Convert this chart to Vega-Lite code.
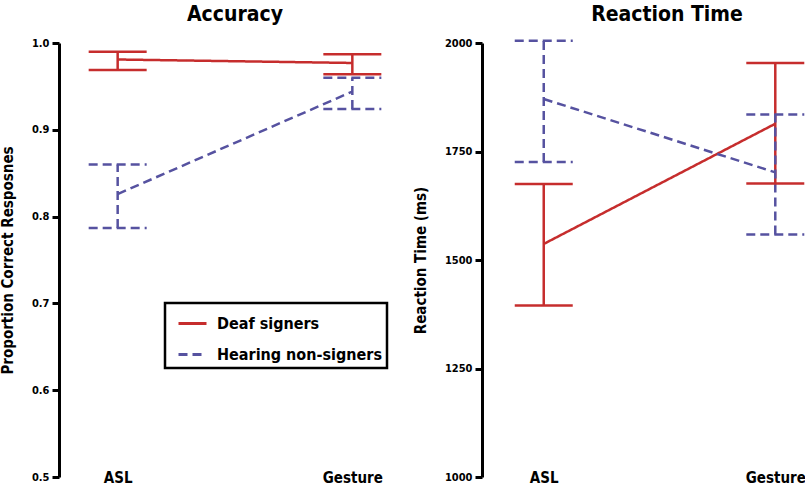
{
  "$schema": "https://vega.github.io/schema/vega-lite/v6.json",
  "padding": {"left": 0, "top": 4, "right": 0, "bottom": 0},
  "spacing": 2,
  "datasets": {
    "acc": [
      {"cond": "ASL", "group": "Deaf signers", "mean": 0.981, "lo": 0.969, "hi": 0.990},
      {"cond": "Gesture", "group": "Deaf signers", "mean": 0.977, "lo": 0.964, "hi": 0.987},
      {"cond": "ASL", "group": "Hearing non-signers", "mean": 0.826, "lo": 0.787, "hi": 0.860},
      {"cond": "Gesture", "group": "Hearing non-signers", "mean": 0.944, "lo": 0.924, "hi": 0.960}
    ],
    "rt": [
      {"cond": "ASL", "group": "Deaf signers", "mean": 1537, "lo": 1395, "hi": 1675},
      {"cond": "Gesture", "group": "Deaf signers", "mean": 1814, "lo": 1676, "hi": 1954},
      {"cond": "ASL", "group": "Hearing non-signers", "mean": 1871, "lo": 1726, "hi": 2005},
      {"cond": "Gesture", "group": "Hearing non-signers", "mean": 1702, "lo": 1559, "hi": 1835}
    ]
  },
  "hconcat": [
    {
      "width": 352,
      "height": 434,
      "title": {"text": "Accuracy"},
      "data": {"name": "acc"},
      "encoding": {
        "x": {"field": "cond", "type": "nominal", "sort": ["ASL", "Gesture"], "scale": {"type": "point", "padding": 0.25}, "title": null},
        "color": {"field": "group", "type": "nominal", "title": null,
          "scale": {"domain": ["Deaf signers", "Hearing non-signers"], "range": ["#c62d2d", "#5652a0"]},
          "legend": {"orient": "none", "legendX": 106, "legendY": 260,
            "encode": {"symbols": {"update": {"stroke": {"signal": "datum.value === 'Deaf signers' ? '#c0462e' : '#1f1fe0'"}}}}}},
        "strokeDash": {"field": "group", "type": "nominal", "title": null,
          "scale": {"domain": ["Deaf signers", "Hearing non-signers"], "range": [[1, 0], [9, 5]]},
          "legend": {"orient": "none", "legendX": 106, "legendY": 260,
            "encode": {"symbols": {"update": {"stroke": {"signal": "datum.value === 'Deaf signers' ? '#c0462e' : '#1f1fe0'"}}}}}}
      },
      "layer": [
        {"mark": {"type": "line", "strokeWidth": 2.5},
         "encoding": {"y": {"field": "mean", "type": "quantitative", "title": "Proportion Correct Resposnes",
           "scale": {"domain": [0.5, 1.0], "nice": false, "zero": false},
           "axis": {"values": [0.5, 0.6, 0.7, 0.8, 0.9, 1.0], "format": ".1f"}}}},
        {"mark": {"type": "rule", "strokeWidth": 2.5},
         "encoding": {"y": {"field": "lo", "type": "quantitative", "title": "Proportion Correct Resposnes"}, "y2": {"field": "hi"}}},
        {"mark": {"type": "rule", "strokeWidth": 2.5, "xOffset": -29, "x2Offset": 29},
         "encoding": {"x2": {"field": "cond"}, "y": {"field": "hi", "type": "quantitative", "title": "Proportion Correct Resposnes"}}},
        {"mark": {"type": "rule", "strokeWidth": 2.5, "xOffset": -29, "x2Offset": 29},
         "encoding": {"x2": {"field": "cond"}, "y": {"field": "lo", "type": "quantitative", "title": "Proportion Correct Resposnes"}}}
      ]
    },
    {
      "width": 320,
      "height": 434,
      "title": {"text": "Reaction Time", "dx": 25},
      "data": {"name": "rt"},
      "encoding": {
        "x": {"field": "cond", "type": "nominal", "sort": ["ASL", "Gesture"], "scale": {"type": "point", "padding": 0.191, "align": 0.698}, "title": null},
        "color": {"field": "group", "type": "nominal", "title": null,
          "scale": {"domain": ["Deaf signers", "Hearing non-signers"], "range": ["#c62d2d", "#5652a0"]}, "legend": null},
        "strokeDash": {"field": "group", "type": "nominal", "title": null,
          "scale": {"domain": ["Deaf signers", "Hearing non-signers"], "range": [[1, 0], [9, 5]]}, "legend": null}
      },
      "layer": [
        {"mark": {"type": "line", "strokeWidth": 2.5},
         "encoding": {"y": {"field": "mean", "type": "quantitative", "title": "Reaction Time (ms)",
           "scale": {"domain": [1000, 2000], "nice": false, "zero": false},
           "axis": {"values": [1000, 1250, 1500, 1750, 2000], "format": "d"}}}},
        {"mark": {"type": "rule", "strokeWidth": 2.5},
         "encoding": {"y": {"field": "lo", "type": "quantitative", "title": "Reaction Time (ms)"}, "y2": {"field": "hi"}}},
        {"mark": {"type": "rule", "strokeWidth": 2.5, "xOffset": -29, "x2Offset": 29},
         "encoding": {"x2": {"field": "cond"}, "y": {"field": "hi", "type": "quantitative", "title": "Reaction Time (ms)"}}},
        {"mark": {"type": "rule", "strokeWidth": 2.5, "xOffset": -29, "x2Offset": 29},
         "encoding": {"x2": {"field": "cond"}, "y": {"field": "lo", "type": "quantitative", "title": "Reaction Time (ms)"}}}
      ]
    }
  ],
  "resolve": {"scale": {"y": "independent", "x": "independent", "color": "independent", "strokeDash": "independent"}, "legend": {"color": "independent", "strokeDash": "independent"}},
  "config": {
    "font": "DejaVu Sans Condensed",
    "view": {"stroke": null},
    "axis": {"grid": false, "labelFontWeight": "bold", "titleFontWeight": "bold", "labelColor": "black", "titleColor": "black", "labelFont": "DejaVu Sans Condensed", "titleFont": "DejaVu Sans Condensed"},
    "axisY": {"domainColor": "black", "domainWidth": 3, "tickColor": "black", "tickWidth": 3, "tickSize": 7, "labelFontSize": 11, "labelPadding": 3, "titleFontSize": 15, "titlePadding": 16},
    "axisX": {"domain": false, "ticks": false, "labelFontSize": 15, "labelPadding": -7, "labelAngle": 0},
    "title": {"fontSize": 21, "fontWeight": "bold", "color": "black", "anchor": "middle", "font": "DejaVu Sans Condensed", "offset": 12},
    "legend": {"labelFontSize": 16, "labelFontWeight": "bold", "labelColor": "black", "labelFont": "DejaVu Sans Condensed", "labelLimit": 400,
      "strokeColor": "black", "strokeWidth": 2.5, "padding": 5, "symbolOffset": 7, "symbolType": "stroke", "symbolSize": 784, "symbolStrokeWidth": 3, "rowPadding": 7, "labelOffset": 9, "fillColor": "white"}
  }
}
